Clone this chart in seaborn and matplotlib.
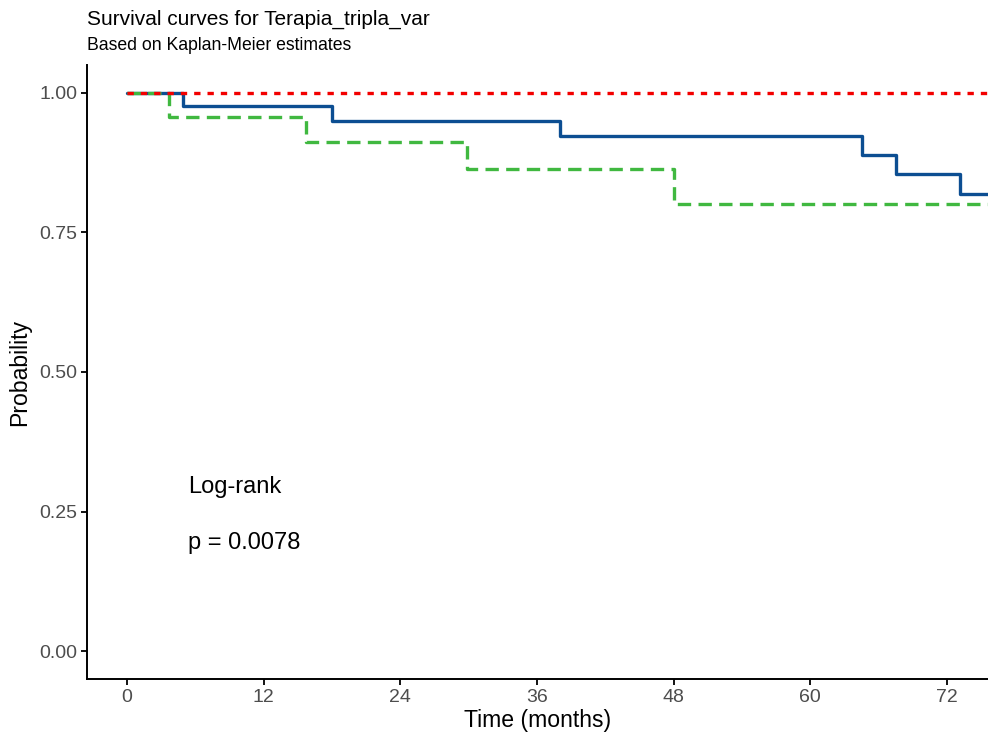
import matplotlib
matplotlib.use("Agg")
import matplotlib.pyplot as plt
import seaborn as sns
import pandas as pd

# ---- data ----
groups = ["grupo_1", "grupo_2", "grupo_3"]
time_g1 = [0, 4.9, 18.0, 38.0, 64.5, 67.5, 73.1, 80]
surv_g1 = [1.0, 0.977, 0.950, 0.922, 0.888, 0.854, 0.818, 0.818]
time_g2 = [0, 3.7, 15.7, 29.9, 48.0, 80]
surv_g2 = [1.0, 0.956, 0.912, 0.864, 0.801, 0.801]
time_g3 = [0, 80]
surv_g3 = [1.0, 1.0]
x_ticks = [0, 12, 24, 36, 48, 60, 72]
y_ticks = [0.00, 0.25, 0.50, 0.75, 1.00]
title = "Survival curves for Terapia_tripla_var"
subtitle = "Based on Kaplan-Meier estimates"
pval_text = "p = 0.0078"

colors = {"grupo_1": "#0C4E92", "grupo_2": "#40B840", "grupo_3": "#F20000"}
dashes = {"grupo_1": "", "grupo_2": (4.0, 2.2), "grupo_3": (1.9, 2.1)}

df = pd.concat([
    pd.DataFrame({"time": time_g1, "surv": surv_g1, "group": groups[0]}),
    pd.DataFrame({"time": time_g2, "surv": surv_g2, "group": groups[1]}),
    pd.DataFrame({"time": time_g3, "surv": surv_g3, "group": groups[2]}),
], ignore_index=True)

sns.set_theme(style="ticks")
plt.rcParams["font.family"] = ["Liberation Sans", "DejaVu Sans"]

fig = plt.figure(figsize=(9.88, 7.39), dpi=100)
ax = fig.add_axes([87 / 988, 1 - 679 / 739, 1 - 87 / 988, (679 - 65) / 739])

sns.lineplot(data=df, x="time", y="surv", hue="group", style="group",
             palette=colors, dashes=dashes, hue_order=groups, style_order=groups,
             estimator=None, sort=False, drawstyle="steps-post",
             linewidth=2.4, legend=False, ax=ax)

ax.set_xlim(-3.5, 75.6)
ax.set_ylim(-0.05, 1.05)
ax.set_xticks(x_ticks)
ax.set_xticklabels([str(t) for t in x_ticks])
ax.set_yticks(y_ticks)
ax.set_yticklabels([f"{v:.2f}" for v in y_ticks])
ax.tick_params(axis="both", colors="black", labelcolor="#4D4D4D",
               labelsize=14, length=4, width=1.3, direction="out", pad=3)
for s in ["top", "right"]:
    ax.spines[s].set_visible(False)
for s in ["left", "bottom"]:
    ax.spines[s].set_linewidth(1.4)
    ax.spines[s].set_color("black")

ax.set_xlabel("Time (months)", fontsize=16.6, color="black", labelpad=2)
ax.set_ylabel("Probability", fontsize=16.6, color="black", labelpad=6)

ax.text(5.4, 0.283, "Log-rank", fontsize=17, va="baseline", ha="left", color="black")
ax.text(5.4, 0.183, pval_text, fontsize=17, va="baseline", ha="left", color="black")

fig.text(87 / 988, 1 - 25 / 739, title, fontsize=15, va="baseline", ha="left", color="black")
fig.text(87 / 988, 1 - 50 / 739, subtitle, fontsize=12.7, va="baseline", ha="left", color="black")

fig.savefig("out.png", dpi=100, facecolor="white")
